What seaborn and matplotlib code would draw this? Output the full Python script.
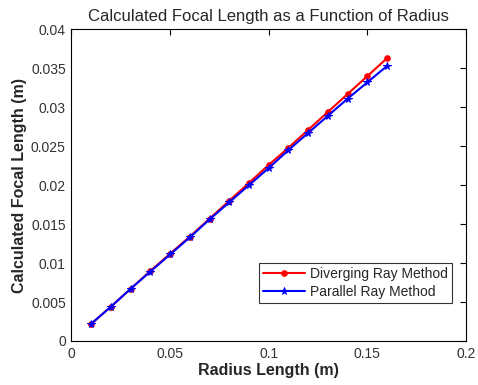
import numpy as np
import pandas as pd
import seaborn as sns
import matplotlib
matplotlib.use("Agg")
import matplotlib.pyplot as plt

# radius (m) and the two focal length estimates (m)
radius = [0.01, 0.02, 0.03, 0.04, 0.05, 0.06, 0.07, 0.08,
          0.09, 0.10, 0.11, 0.12, 0.13, 0.14, 0.15, 0.16]
diverging = [0.0022, 0.0044, 0.0067, 0.0090, 0.0112, 0.0134, 0.0157, 0.0180,
             0.0203, 0.0226, 0.0248, 0.0271, 0.0294, 0.0317, 0.0340, 0.0363]
parallel = [0.0022, 0.0044, 0.0067, 0.0089, 0.0111, 0.0133, 0.0156, 0.0178,
            0.0200, 0.0222, 0.0245, 0.0267, 0.0289, 0.0311, 0.0332, 0.0353]

x_ticks = [0, 0.05, 0.1, 0.15, 0.2]
x_labels = ["0", "0.05", "0.1", "0.15", "0.2"]
y_ticks = [0, 0.005, 0.01, 0.015, 0.02, 0.025, 0.03, 0.035, 0.04]
y_labels = ["0", "0.005", "0.01", "0.015", "0.02", "0.025", "0.03", "0.035", "0.04"]

df_div = pd.DataFrame({"r": radius, "f": diverging})
df_par = pd.DataFrame({"r": radius, "f": parallel})

sns.set_style("white")
plt.rcParams["font.family"] = ["Liberation Sans", "DejaVu Sans"]

fig = plt.figure(figsize=(4.78, 3.85), dpi=100)
ax = fig.add_axes([0.1494, 0.1143, 0.8256, 0.8096])

sns.lineplot(data=df_div, x="r", y="f", ax=ax, color="red", marker=".",
             markersize=8, markeredgecolor="red", linewidth=1.5,
             label="Diverging Ray Method")
sns.lineplot(data=df_par, x="r", y="f", ax=ax, color="blue", marker="*",
             markersize=5.5, markeredgecolor="blue", linewidth=1.5,
             label="Parallel Ray Method")

ax.set_xlim(0, 0.2)
ax.set_ylim(0, 0.04)
ax.set_xticks(x_ticks)
ax.set_xticklabels(x_labels)
ax.set_yticks(y_ticks)
ax.set_yticklabels(y_labels)
ax.tick_params(direction="in", top=True, right=True, length=4, width=0.8,
               labelsize=10, colors="black", labelcolor="#333333", pad=4)
for s in ax.spines.values():
    s.set_color("black")
    s.set_linewidth(0.8)

ax.set_title("Calculated Focal Length as a Function of Radius", fontsize=12, pad=6)
ax.set_xlabel("Radius Length (m)", fontsize=11.5, fontweight="bold", labelpad=2)
ax.set_ylabel("Calculated Focal Length (m)", fontsize=11.5, fontweight="bold", labelpad=3)

leg = ax.legend(loc="lower right", bbox_to_anchor=(0.9645, 0.122), fontsize=10,
                frameon=True, fancybox=False, edgecolor="black",
                borderpad=0.3, handlelength=3.0, labelspacing=0.25,
                handletextpad=0.35, borderaxespad=0.0)
leg.get_frame().set_linewidth(0.8)

fig.savefig("out.png", dpi=100)
